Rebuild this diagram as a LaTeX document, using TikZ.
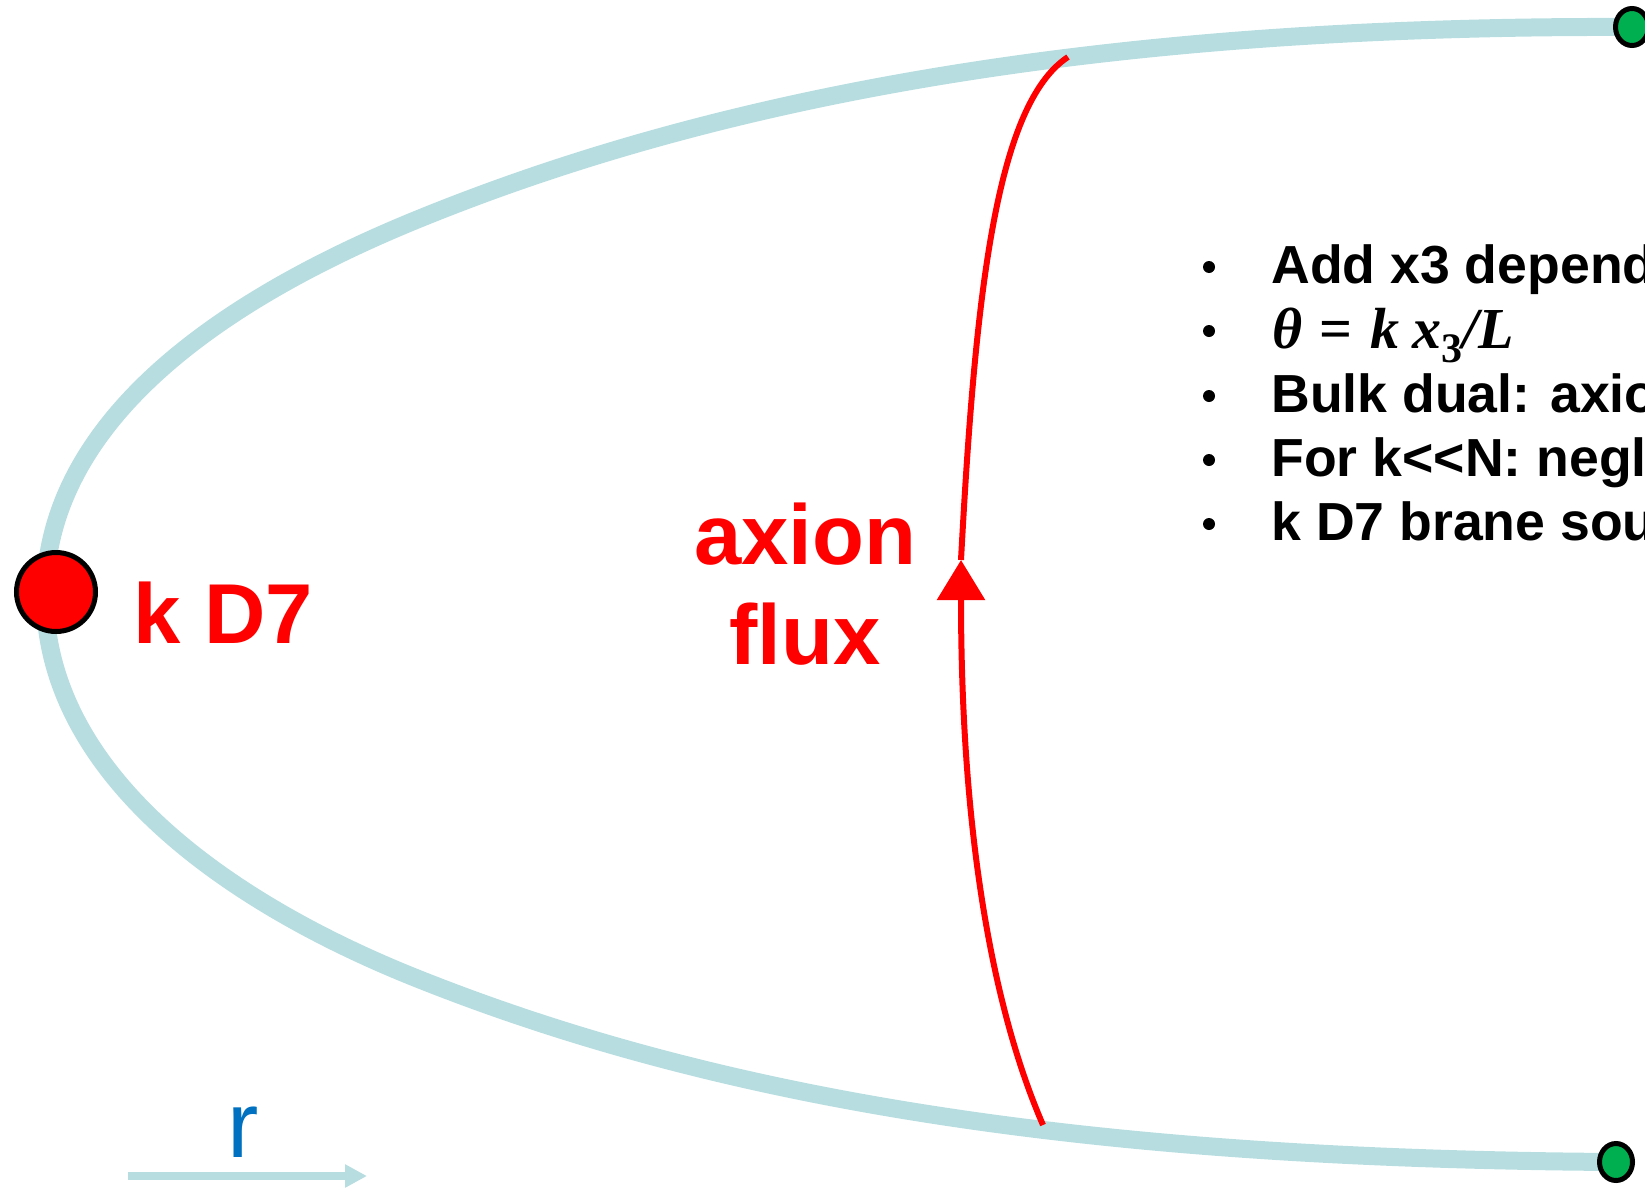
\documentclass[tikz,border=0pt]{standalone}
\usepackage{fontspec}
\usetikzlibrary{arrows.meta,shapes.geometric}
\newfontfamily\arial{Liberation Sans}
\newfontfamily\serifb{Liberation Serif}

\definecolor{bandblue}{RGB}{183,221,224}
\definecolor{dotgreen}{RGB}{0,176,80}
\definecolor{rblue}{RGB}{0,112,192}

\newcommand{\thetaformula}{%
  {\itshape θ}\hspace{0.3em}=\hspace{0.3em}{\itshape k}\hspace{0.22em}{\itshape x}%
  \raisebox{-7pt}{\fontsize{21}{24}\selectfont 3}{\itshape /L}}

\tikzset{
  bandline/.style={draw=bandblue, line width=9pt},
  fluxline/.style={draw=red, line width=3pt},
  greendot/.style={ellipse, draw=black, line width=2.5pt, fill=dotgreen,
    inner sep=0pt, minimum width=16.5pt, minimum height=18.5pt},
  reddot/.style={circle, draw=black, line width=2.5pt, fill=red,
    inner sep=0pt, minimum size=39.5pt},
  biglabel/.style={text=red, inner sep=0pt,
    font=\arial\bfseries\fontsize{42.5}{50}\selectfont},
  itemtext/.style={anchor=base west, inner sep=0pt,
    font=\arial\bfseries\fontsize{26.8}{32}\selectfont},
  formulatext/.style={anchor=base west, inner sep=0pt,
    font=\serifb\bfseries\fontsize{29}{34}\selectfont},
  rtext/.style={anchor=base west, inner sep=0pt, text=rblue,
    font=\arial\fontsize{47}{56}\selectfont},
  bulletdot/.style={circle, fill=black, inner sep=0pt, minimum size=6pt},
}

\begin{document}
\begin{tikzpicture}[x=0.5pt, y=-0.5pt]
\useasboundingbox (0,0) rectangle (1645,1189);

% ends and joints of the brane profile
\coordinate (tend) at (1632,27);
\coordinate (bend) at (1616,1162);
\coordinate (vtx)  at (45,596);
\coordinate (um)   at (421,218);
\coordinate (lm)   at (421,980);

% the profile curve
\draw[bandline] (tend) .. controls (1132,25) and (741,88) .. (um)
  .. controls (231,295) and (45,416) .. (vtx)
  .. controls (45,776) and (231,905) .. (lm)
  .. controls (741,1107) and (1116,1159) .. (bend);

% boundary points and the D7 source
\node[greendot] (gtop) at (tend) {};
\node[greendot] (gbot) at (bend) {};
\node[reddot] (d7) at (56,592) {};
\node[biglabel, anchor=base west] (kd7) at (133,643) {k D7};

% axion flux line with its arrow
\coordinate (ftop) at (1068,57);
\coordinate (fbot) at (1043,1125);
\coordinate (ftip) at (961,560);
\draw[fluxline, -{Triangle[length=20pt,width=23.5pt]}] (fbot)
  .. controls (999.6,1025) and (961,860) .. (ftip);
\draw[fluxline] (ftip) .. controls (975,300) and (995,105) .. (ftop);
\node[biglabel, anchor=base] (axion) at (805,564) {axion};
\node[biglabel, anchor=base] (flux) at (805,664) {flux};

% radial direction
\coordinate (ra) at (128,1176);
\coordinate (rb) at (367,1176);
\draw[draw=bandblue, line width=4pt, -{Triangle[length=11pt,width=11pt]}] (ra) -- (rb);
\node[rtext] (rlabel) at (227,1157) {r};

% list of remarks
\node[bulletdot] (b1) at (1209,267) {};
\node[bulletdot] (b2) at (1209,331) {};
\node[bulletdot] (b3) at (1209,396) {};
\node[bulletdot] (b4) at (1209,460) {};
\node[bulletdot] (b5) at (1209,524) {};
\node[itemtext] (t1) at (1271,283) {Add x3 depend};
\node[formulatext] (t2) at (1272,348) {\thetaformula};
\node[itemtext] (t3) at (1271,412) {Bulk dual: axio};
\node[itemtext] (t4) at (1271,476) {For k{<}{<}N: negl};
\node[itemtext] (t5) at (1271,540) {k D7 brane sou};
\end{tikzpicture}
\end{document}
